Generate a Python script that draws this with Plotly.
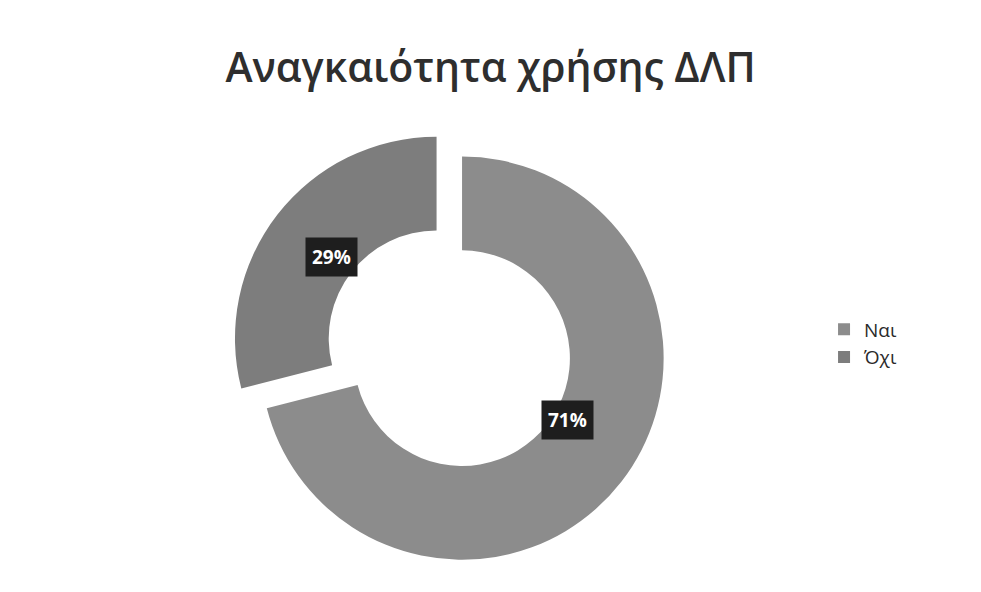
import math
import plotly.graph_objects as go

# Survey answers: is the use of IAS necessary?
categories = ["Ναι", "Όχι"]
shares = [71, 29]
slice_colors = ["#8c8c8c", "#7d7d7d"]
pulls = [0, 0.16]

W, H = 981, 592
dom_x = [0.171, 0.771]
dom_y = [0.0, 0.79]
hole = 0.535

fig = go.Figure(go.Pie(
    labels=categories,
    values=shares,
    sort=False,
    direction="clockwise",
    rotation=0,
    hole=hole,
    pull=pulls,
    marker=dict(colors=slice_colors, line=dict(width=0)),
    textinfo="none",
    hoverinfo="label+percent",
    domain=dict(x=dom_x, y=dom_y),
))

# percentage labels in dark boxes, placed at each slice's mid-angle
cx = (dom_x[0] + dom_x[1]) / 2 * W
cy = (1 - (dom_y[0] + dom_y[1]) / 2) * H
r_out = min((dom_x[1] - dom_x[0]) * W, (dom_y[1] - dom_y[0]) * H) / 2 / (1 + max(pulls))
total = sum(shares)
start = 0.0
for cat, val, p in zip(categories, shares, pulls):
    frac = val / total
    mid = (start + frac / 2) * 2 * math.pi
    start += frac
    ox = cx + p * r_out * math.sin(mid)
    oy = cy - p * r_out * math.cos(mid)
    rr = 0.66 * r_out
    px = ox + rr * math.sin(mid)
    py = oy - rr * math.cos(mid)
    fig.add_annotation(
        x=px / W, y=1 - py / H, xref="paper", yref="paper",
        text=f"<b>{round(frac * 100)}%</b>",
        showarrow=False,
        font=dict(family="Open Sans", size=19, color="white"),
        bgcolor="#1e1e1e", borderpad=6,
    )

fig.update_layout(
    width=W, height=H,
    margin=dict(l=0, r=0, t=0, b=0),
    paper_bgcolor="white",
    plot_bgcolor="white",
    title=dict(
        text="Αναγκαιότητα χρήσης ΔΛΠ",
        x=0.5, xanchor="center", y=0.885, yanchor="middle",
        font=dict(family="Open Sans", size=41, color="#2e2e2e", weight=600),
    ),
    legend=dict(
        x=0.84, y=0.42, xanchor="left", yanchor="middle",
        font=dict(family="Open Sans", size=19, color="#2a2a2a"),
        itemwidth=30,
    ),
)

fig.write_html("out.html")
